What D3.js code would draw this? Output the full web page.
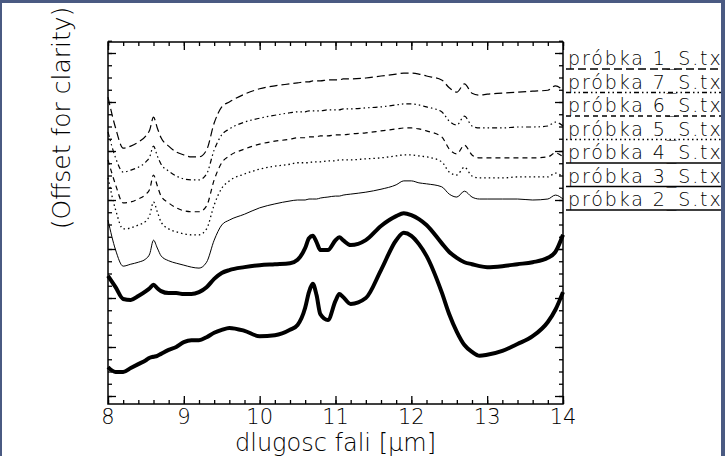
<!DOCTYPE html>
<html>
<head>
<meta charset="utf-8">
<script src="https://cdnjs.cloudflare.com/ajax/libs/d3/7.8.5/d3.min.js"></script>
<style>
    body { margin: 0; background: #fff; }
    svg text { font-family: "DejaVu Sans", sans-serif; font-weight: 200; fill: #000; }
</style>
</head>
<body>
<script>
// wavelength grid [um]
var wavelength = [8.0, 8.1, 8.2, 8.3, 8.4, 8.5, 8.55, 8.6, 8.65, 8.7,
    8.8, 8.9, 9.0, 9.1, 9.2, 9.3, 9.4, 9.5, 9.6,
    9.8, 10.0, 10.2, 10.4, 10.5, 10.6,
    10.65, 10.7, 10.75, 10.8, 10.9, 11.0,
    11.05, 11.1, 11.2, 11.4, 11.6, 11.8,
    11.9, 12.0, 12.1, 12.2, 12.4,
    12.5, 12.6, 12.7, 12.8, 12.9, 13.0,
    13.2, 13.4, 13.6, 13.8, 13.9, 14.0];

// spectra, already offset for clarity
var probka1 = [6.10, 5.47, 5.06, 5.10, 5.18, 5.31, 5.43, 5.69, 5.47, 5.27,
    5.10, 4.98, 4.92, 4.88, 4.88, 5.02, 5.57, 5.90, 6.00,
    6.16, 6.27, 6.33, 6.37, 6.39, 6.41,
    6.41, 6.43, 6.43, 6.43, 6.45, 6.45,
    6.45, 6.47, 6.47, 6.49, 6.53, 6.57,
    6.59, 6.59, 6.57, 6.53, 6.45,
    6.29, 6.20, 6.37, 6.18, 6.14, 6.16,
    6.18, 6.20, 6.22, 6.24, 6.33, 6.24];
var probka7 = [5.39, 4.86, 4.57, 4.61, 4.67, 4.78, 4.88, 5.10, 4.90, 4.73,
    4.59, 4.49, 4.43, 4.41, 4.41, 4.53, 5.02, 5.33, 5.45,
    5.59, 5.67, 5.73, 5.78, 5.80, 5.80,
    5.82, 5.82, 5.82, 5.82, 5.84, 5.84,
    5.84, 5.86, 5.86, 5.88, 5.90, 5.94,
    5.96, 5.96, 5.94, 5.90, 5.80,
    5.61, 5.53, 5.71, 5.51, 5.47, 5.47,
    5.47, 5.49, 5.49, 5.51, 5.59, 5.51];
var probka6 = [4.82, 4.31, 3.94, 3.96, 4.02, 4.12, 4.22, 4.51, 4.29, 4.08,
    3.94, 3.84, 3.78, 3.76, 3.76, 3.88, 4.41, 4.76, 4.90,
    5.04, 5.14, 5.20, 5.24, 5.27, 5.27,
    5.29, 5.29, 5.29, 5.31, 5.31, 5.33,
    5.33, 5.33, 5.35, 5.37, 5.41, 5.45,
    5.47, 5.47, 5.45, 5.41, 5.29,
    5.04, 4.94, 5.12, 4.92, 4.86, 4.86,
    4.86, 4.86, 4.86, 4.88, 4.96, 4.88];
var probka5 = [4.45, 3.80, 3.41, 3.43, 3.49, 3.57, 3.69, 3.96, 3.76, 3.55,
    3.41, 3.35, 3.31, 3.29, 3.29, 3.41, 3.90, 4.24, 4.39,
    4.53, 4.63, 4.69, 4.73, 4.76, 4.76,
    4.76, 4.78, 4.78, 4.78, 4.80, 4.80,
    4.82, 4.82, 4.82, 4.84, 4.86, 4.90,
    4.92, 4.92, 4.90, 4.88, 4.78,
    4.57, 4.51, 4.67, 4.49, 4.45, 4.45,
    4.45, 4.47, 4.47, 4.47, 4.55, 4.47];
var probka4 = [3.59, 2.98, 2.65, 2.69, 2.73, 2.80, 2.90, 3.18, 3.02, 2.86,
    2.76, 2.71, 2.67, 2.63, 2.61, 2.73, 3.18, 3.49, 3.59,
    3.71, 3.84, 3.92, 3.98, 4.00, 4.00,
    4.02, 4.02, 4.02, 4.04, 4.06, 4.08,
    4.08, 4.10, 4.12, 4.16, 4.22, 4.31,
    4.39, 4.39, 4.35, 4.33, 4.27,
    4.12, 4.06, 4.18, 4.06, 4.02, 4.02,
    4.02, 4.02, 4.00, 4.02, 4.10, 4.02];
var probka3 = [2.45, 2.22, 1.98, 1.96, 2.04, 2.14, 2.20, 2.27, 2.20, 2.14,
    2.10, 2.10, 2.08, 2.08, 2.12, 2.22, 2.39, 2.51, 2.57,
    2.63, 2.67, 2.69, 2.71, 2.78, 3.02,
    3.22, 3.27, 3.14, 2.98, 2.98, 3.18,
    3.24, 3.18, 3.08, 3.18, 3.47, 3.67,
    3.73, 3.69, 3.61, 3.49, 3.12,
    2.94, 2.82, 2.73, 2.69, 2.65, 2.63,
    2.65, 2.69, 2.73, 2.82, 2.94, 3.29];
var probka2 = [0.59, 0.49, 0.49, 0.57, 0.65, 0.73, 0.78, 0.80, 0.82, 0.86,
    0.94, 1.00, 1.10, 1.14, 1.14, 1.20, 1.29, 1.35, 1.39,
    1.33, 1.22, 1.24, 1.35, 1.45, 1.80,
    2.12, 2.29, 2.06, 1.67, 1.55, 1.94,
    2.08, 2.02, 1.88, 2.00, 2.57, 3.18,
    3.33, 3.27, 3.10, 2.86, 2.12,
    1.67, 1.31, 1.04, 0.90, 0.82, 0.84,
    0.92, 1.06, 1.22, 1.51, 1.76, 2.12];

var legendLabels = ["próbka 1_S.txt", "próbka 7_S.txt", "próbka 6_S.txt", "próbka 5_S.txt",
    "próbka 4_S.txt", "próbka 3_S.txt", "próbka 2_S.txt"];
var xTicks = [8, 9, 10, 11, 12, 13, 14];

var series = [
    {values: probka1, dash: "8,4", width: 1.2},
    {values: probka7, dash: "5,3,1.5,3,1.5,3", width: 1.2},
    {values: probka6, dash: "5,4", width: 1.2},
    {values: probka5, dash: "1.5,3", width: 1.3},
    {values: probka4, dash: null, width: 1},
    {values: probka3, dash: null, width: 4},
    {values: probka2, dash: null, width: 4}
];

var width = 725, height = 456;
var plot = {left: 108, right: 563, top: 42, bottom: 404};

var svg = d3.select("body").append("svg")
    .attr("width", width)
    .attr("height", height);

var xScale = d3.scaleLinear()
    .domain([8, 14])
    .range([plot.left, plot.right]);

var yScale = d3.scaleLinear()
    .domain([-8 / 49, 354 / 49])
    .range([plot.bottom, plot.top]);

var xMinor = d3.range(8, 14.001, 0.2);
var yMajor = d3.range(0, 8, 1);
var yMinor = d3.range(0, 7.3, 0.25);

// ticks on all four sides, pointing inward
function ticks(axis, values, size, transform) {
    var g = svg.append("g")
        .attr("transform", transform)
        .call(axis.tickValues(values).tickSize(-size).tickSizeOuter(0).tickFormat(""));
    g.select(".domain").remove();
    g.selectAll("line").attr("stroke", "#000").attr("stroke-width", 1.3);
}
ticks(d3.axisBottom(xScale), xMinor, 4, "translate(0," + plot.bottom + ")");
ticks(d3.axisBottom(xScale), xTicks, 8, "translate(0," + plot.bottom + ")");
ticks(d3.axisTop(xScale), xMinor, 4, "translate(0," + plot.top + ")");
ticks(d3.axisTop(xScale), xTicks, 8, "translate(0," + plot.top + ")");
ticks(d3.axisLeft(yScale), yMinor, 4, "translate(" + plot.left + ",0)");
ticks(d3.axisLeft(yScale), yMajor, 8, "translate(" + plot.left + ",0)");
ticks(d3.axisRight(yScale), yMinor, 4, "translate(" + plot.right + ",0)");
ticks(d3.axisRight(yScale), yMajor, 8, "translate(" + plot.right + ",0)");

svg.append("rect")
    .attr("x", plot.left)
    .attr("y", plot.top)
    .attr("width", plot.right - plot.left)
    .attr("height", plot.bottom - plot.top)
    .attr("fill", "none")
    .attr("stroke", "#000")
    .attr("stroke-width", 1.5);

svg.append("g")
    .selectAll("text")
    .data(xTicks)
    .enter()
    .append("text")
    .attr("x", function(d){ return xScale(d); })
    .attr("y", 424)
    .attr("text-anchor", "middle")
    .attr("font-size", 21)
    .text(function(d){ return d; });

var line = d3.line()
    .x(function(d, i){ return xScale(wavelength[i]); })
    .y(function(d){ return yScale(d); })
    .curve(d3.curveMonotoneX);

svg.append("g")
    .selectAll("path")
    .data(series)
    .enter()
    .append("path")
    .attr("d", function(d){ return line(d.values); })
    .attr("fill", "none")
    .attr("stroke", "#000")
    .attr("stroke-width", function(d){ return d.width; })
    .attr("stroke-dasharray", function(d){ return d.dash; })
    .attr("stroke-linejoin", "round");

// legend: labels underlined with the line style
var legend = svg.append("g")
    .selectAll("g")
    .data(legendLabels)
    .enter()
    .append("g")
    .attr("transform", function(d, i){ return "translate(0," + (69 + i * 23.5) + ")"; });

legend.append("line")
    .attr("x1", 566)
    .attr("x2", 725)
    .attr("stroke", "#000")
    .attr("stroke-width", 1.3)
    .attr("stroke-dasharray", function(d, i){ return series[i].dash; });

legend.append("text")
    .attr("x", 568)
    .attr("y", -4)
    .attr("font-size", 19)
    .attr("letter-spacing", 1.9)
    .text(function(d){ return d; });

svg.append("text")
    .attr("x", (plot.left + plot.right) / 2)
    .attr("y", 451)
    .attr("text-anchor", "middle")
    .attr("font-size", 24)
    .text("dlugosc fali [μm]");

svg.append("text")
    .attr("text-anchor", "middle")
    .attr("font-size", 25)
    .attr("transform", "translate(70,118) rotate(-90)")
    .text("(Offset for clarity)");

// window frame
var frame = "#4a5a82";
svg.append("rect").attr("x", 0).attr("y", 0).attr("width", width).attr("height", 3).attr("fill", frame);
svg.append("rect").attr("x", 0).attr("y", 0).attr("width", 2).attr("height", height).attr("fill", frame);
svg.append("rect").attr("x", 721).attr("y", 0).attr("width", 4).attr("height", height).attr("fill", frame);
</script>
</body>
</html>
